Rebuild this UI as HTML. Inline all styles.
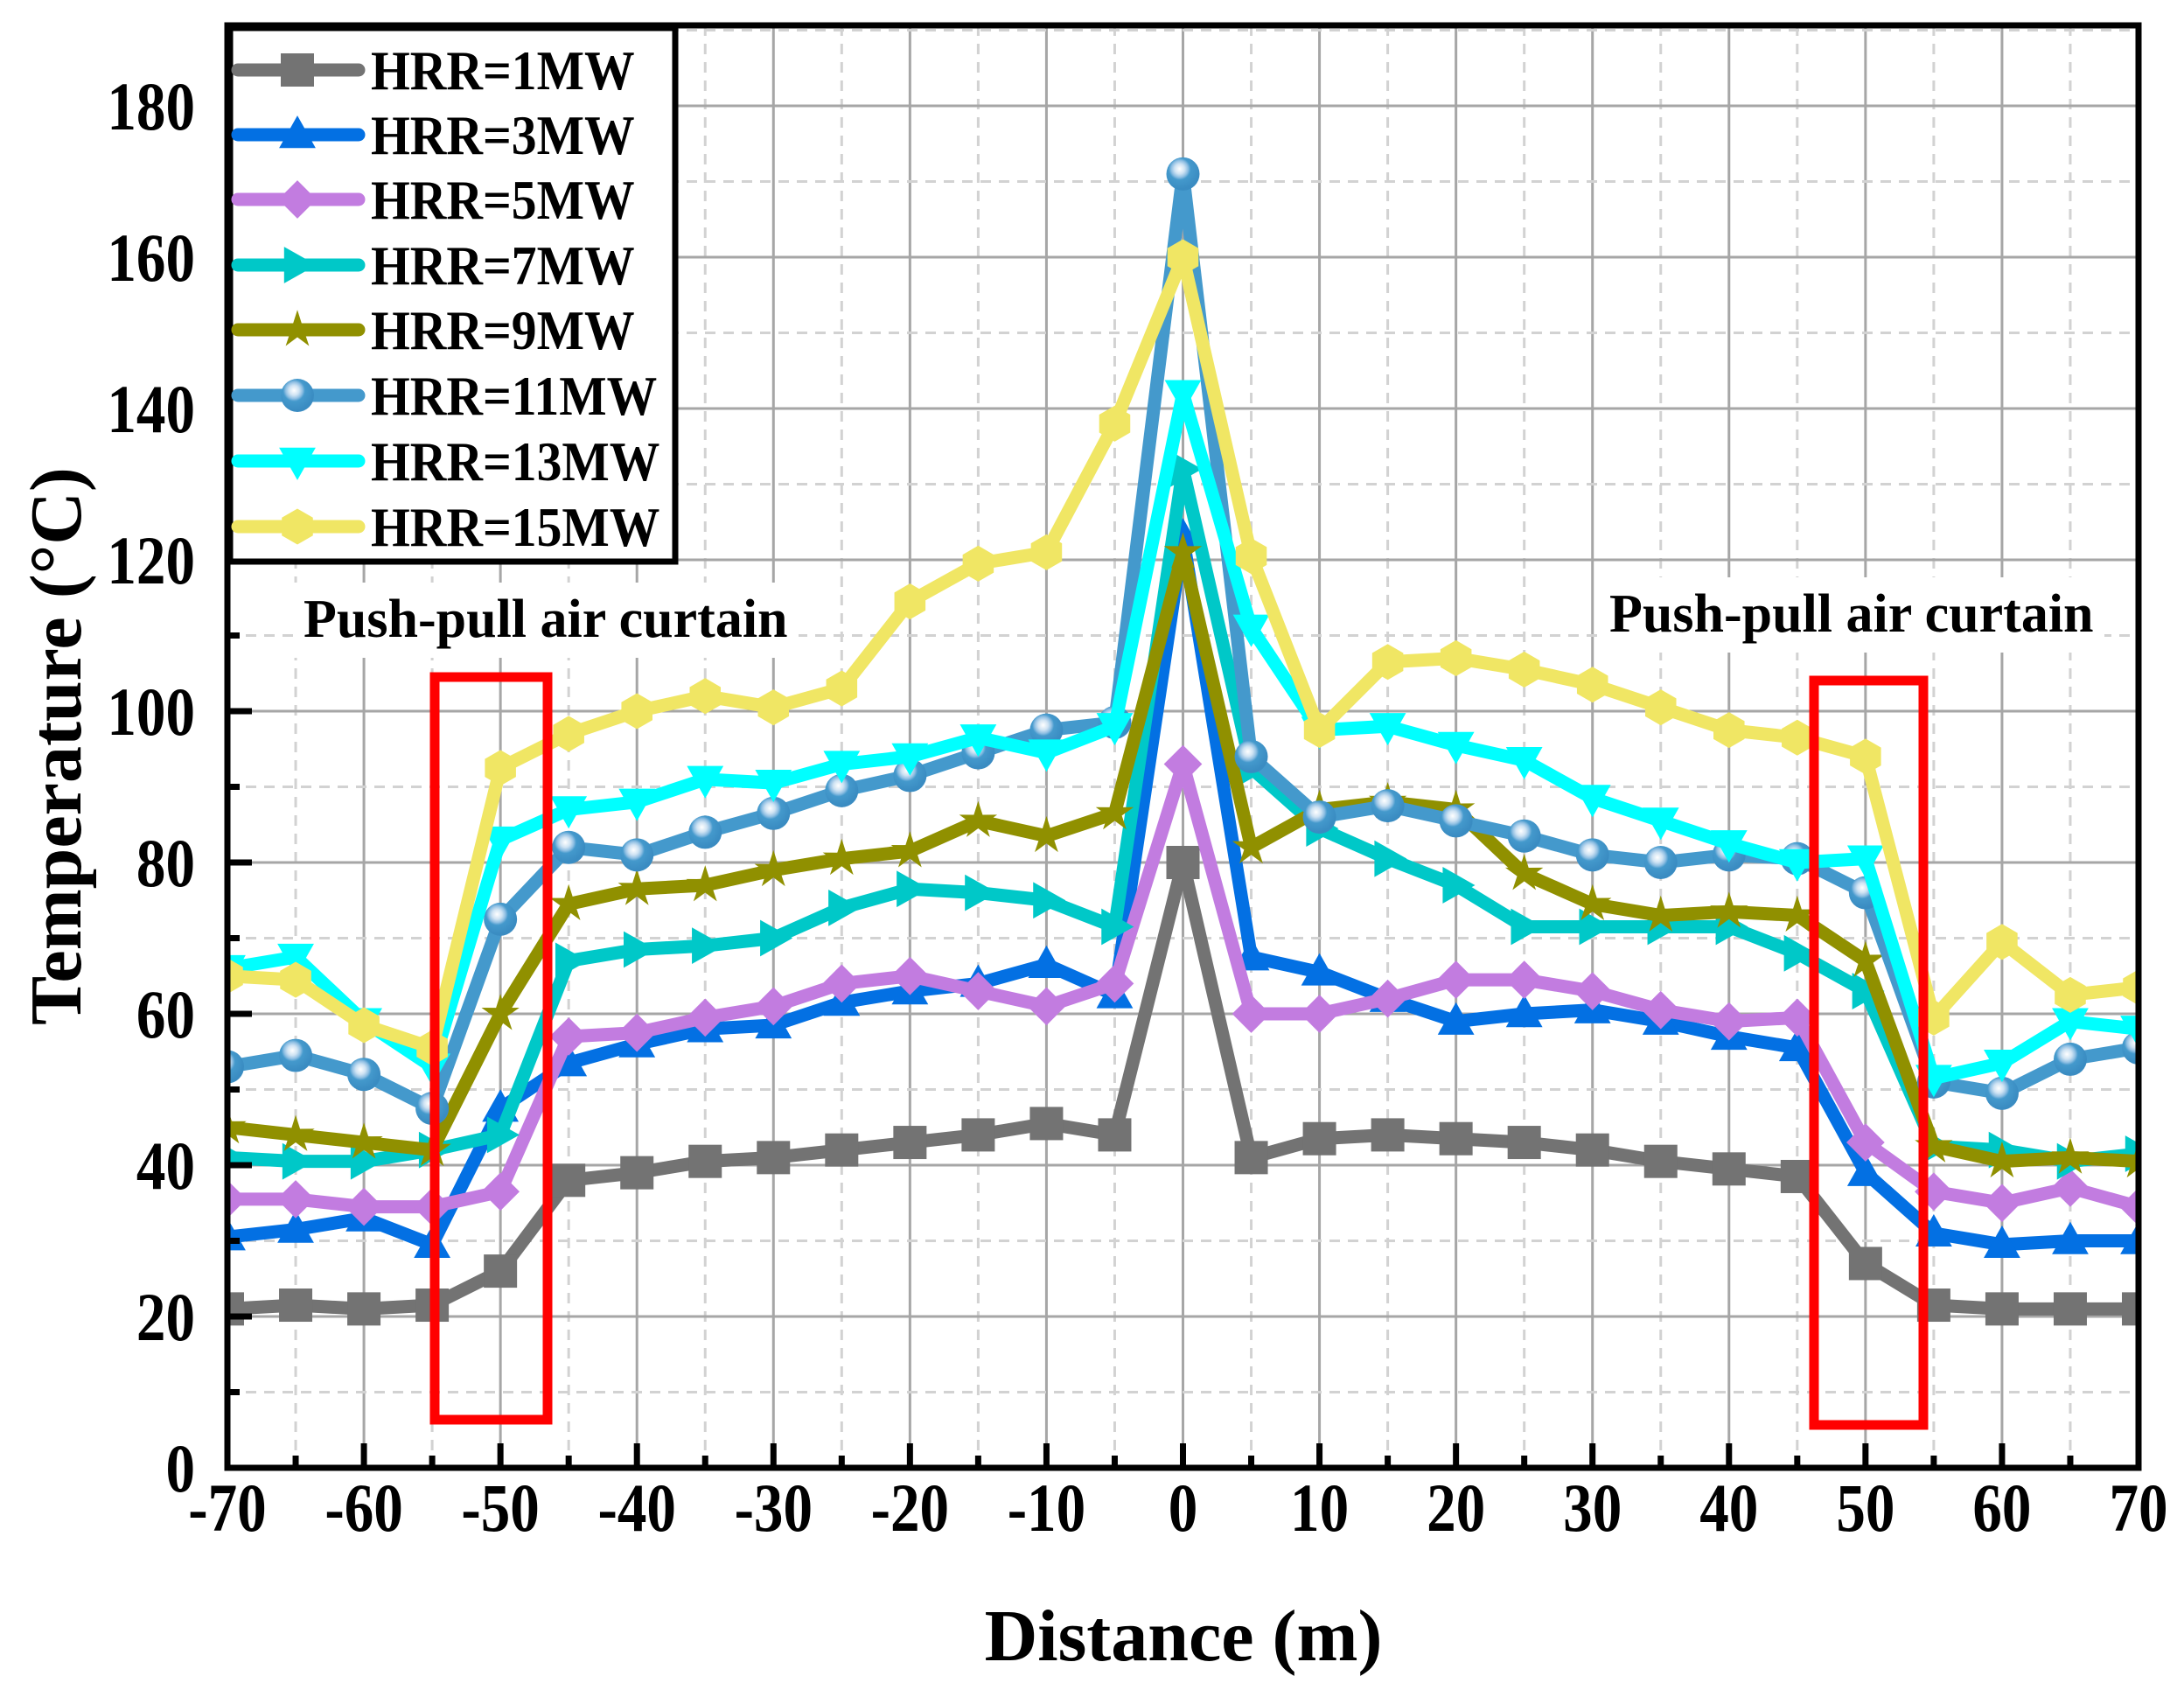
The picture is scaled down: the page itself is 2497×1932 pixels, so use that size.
<!DOCTYPE html>
<html><head><meta charset="utf-8"><style>
html,body{margin:0;padding:0;background:#fff;}
svg{display:block;font-family:"Liberation Serif",serif;font-weight:bold;}
</style></head><body>
<svg id="chart" width="2497" height="1932" viewBox="0 0 2497 1932" xmlns="http://www.w3.org/2000/svg">
<defs>
<clipPath id="plotclip"><rect x="260" y="29" width="2185" height="1649"/></clipPath>
<radialGradient id="ballgrad" cx="0.4" cy="0.35" r="0.6">
<stop offset="0" stop-color="#ffffff"/><stop offset="0.25" stop-color="#cfe3f3"/><stop offset="0.42" stop-color="#8fbfe3"/><stop offset="0.55" stop-color="#4499cc"/><stop offset="1" stop-color="#3a8cc2"/>
</radialGradient>
</defs>
<g id="grid"></g>
<g id="annot"></g>
<g id="series" clip-path="url(#plotclip)"></g>
<g id="axes"></g>
<g id="legend"></g>
</svg>
<script>
const distances = [-70,-65,-60,-55,-50,-45,-40,-35,-30,-25,-20,-15,-10,-5,0,5,10,15,20,25,30,35,40,45,50,55,60,65,70];
const hrr1  = [21,21.5,21,21.5,26,38,39,40.5,41,42,43,44,45.5,44,80,41,43.5,44,43.5,43,42,40.5,39.5,38.5,27,21.5,21,21,21];
const hrr3  = [30.5,31.5,33,29.5,47.5,53.5,56,58,58.5,61.5,63,64,66.5,62.5,123,67.5,65.5,62,59,60,60.5,59,57,55.5,39,31,29.5,30,30];
const hrr5  = [35.5,35.5,34.5,34.5,36.5,57,57.5,59.5,61,64,65,63,61,64,93,60,60,62,64.5,64.5,63,60.5,59,59.5,43,36.5,35,37,34.5];
const hrr7  = [41,40.5,40.5,42,44,67,68.5,69,70,74,76.5,76,75,71.5,132,92.5,84.5,80.5,77,71.5,71.5,71.5,71.5,68,63,42.5,42,40.5,41.5];
const hrr9  = [45,44,43,42,60,74.5,76.5,77,79,80.5,81.5,85.5,83.5,86.5,121,82,87,88,87,78.5,74.5,73,73.5,73,67,42.5,40.5,41,40.5];
const hrr11 = [53,54.5,52,47.5,72.5,82,81,84,86.5,89.5,91.5,94.5,97.5,98.5,171,94,86,87.5,85.5,83.5,81,80,81,80.5,76,51,49.5,54,55.5];
const hrr13 = [66,67.5,59,53,83,87,88,91,90.5,93,94,96.5,94.5,98,142,111,97.5,98,95.5,93.5,88.5,85.5,82.5,80,80.5,51.5,53.5,59,58];
const hrr15 = [65,64.5,58.5,55.5,92.5,97,100,102,100.5,103,114.5,119.5,121,138,160,120.5,97.5,106.5,107,105.5,103.5,100.5,97.5,96.5,94,59.5,69.5,62.5,63.5];
const seriesNames = ["HRR=1MW","HRR=3MW","HRR=5MW","HRR=7MW","HRR=9MW","HRR=11MW","HRR=13MW","HRR=15MW"];
const xTickLabels = ["-70","-60","-50","-40","-30","-20","-10","0","10","20","30","40","50","60","70"];
const yTickLabels = ["0","20","40","60","80","100","120","140","160","180"];

const NS="http://www.w3.org/2000/svg";
const X0=260,X1=2445,Y0=1678,YT=29;
const xMin=-70,xMax=70;
function sx(v){return X0+(v-xMin)*(X1-X0)/(xMax-xMin);}
function sy(v){return Y0-v*8.65;}
function mk(tag,attrs,parent){const e=document.createElementNS(NS,tag);for(const k in attrs)e.setAttribute(k,attrs[k]);parent.appendChild(e);return e;}

const grid=document.getElementById('grid');
for(let v=-65;v<70;v+=5){
  const major=(v%10===0);
  const l=mk('line',{x1:sx(v),x2:sx(v),y1:YT,y2:Y0,stroke:major?'#a6a6a6':'#d2d2d2','stroke-width':3,'stroke-dasharray':major?'none':'12 9'},grid);
  
  
}
for(let v=10;v<=190;v+=10){
  const major=(v%20===0);
  const l=mk('line',{x1:X0,x2:X1,y1:sy(v),y2:sy(v),stroke:major?'#a6a6a6':'#d2d2d2','stroke-width':3,'stroke-dasharray':major?'none':'12 9'},grid);
  
  
}

const annot=document.getElementById('annot');
function label(x,y,txt){
  const r=mk('rect',{x:x-12,y:y-62,width:578,height:86,fill:'#fff'},annot);
  
  
  const t=mk('text',{x:x,y:y,'font-size':62,fill:'#000'},annot);
  t.textContent=txt;
  
  
}
label(347,728,'Push-pull air curtain');
label(1840,722,'Push-pull air curtain');

const ser=document.getElementById('series');
const colors=['#737373','#0370e3','#c27ce0','#00c8c8','#909000','#4499cc','#00ffff','#f0e664'];
const markers=['square','triangle','diamond','right','star','circle','down','hexagon'];
const allData=[hrr1,hrr3,hrr5,hrr7,hrr9,hrr11,hrr13,hrr15];

function drawMarker(type,x,y,color,parent,s){
  let e;
  const h=s/2;
  if(type==='square') e=mk('rect',{x:x-h,y:y-h,width:s,height:s,fill:color},parent);
  else if(type==='triangle') e=mk('polygon',{points:`${x},${y-h*1.15} ${x+h*1.1},${y+h*0.8} ${x-h*1.1},${y+h*0.8}`,fill:color},parent);
  else if(type==='down') e=mk('polygon',{points:`${x},${y+h*1.15} ${x+h*1.1},${y-h*0.8} ${x-h*1.1},${y-h*0.8}`,fill:color},parent);
  else if(type==='right') e=mk('polygon',{points:`${x+h*1.15},${y} ${x-h*0.8},${y-h*1.1} ${x-h*0.8},${y+h*1.1}`,fill:color},parent);
  else if(type==='diamond') e=mk('polygon',{points:`${x},${y-h*1.15} ${x+h*1.15},${y} ${x},${y+h*1.15} ${x-h*1.15},${y}`,fill:color},parent);
  else if(type==='hexagon'){let p=[];for(let i=0;i<6;i++){const a=Math.PI/6+i*Math.PI/3;p.push((x+h*1.08*Math.cos(a))+','+(y+h*1.08*Math.sin(a)));}e=mk('polygon',{points:p.join(' '),fill:color},parent);}
  else if(type==='star'){let p=[];for(let i=0;i<10;i++){const a=-Math.PI/2+i*Math.PI/5;const r=(i%2===0)?h*1.2:h*0.45;p.push((x+r*Math.cos(a))+','+(y+r*Math.sin(a)));}e=mk('polygon',{points:p.join(' '),fill:color},parent);}
  else if(type==='circle') e=mk('circle',{cx:x,cy:y,r:h,fill:'url(#ballgrad)'},parent);
  return e;
}

allData.forEach((data,si)=>{
  const g=mk('g',{},ser);
  
  
  const pts=data.map((v,i)=>sx(distances[i])+','+sy(v)).join(' ');
  const pl=mk('polyline',{points:pts,fill:'none',stroke:colors[si],'stroke-width':15,'stroke-linejoin':'round','stroke-linecap':'round'},g);
  
  
  data.forEach((v,i)=>{
    const m=drawMarker(markers[si],sx(distances[i]),sy(v),colors[si],g,38);
    
    
  });
});

const rb1=mk('rect',{x:497,y:774,width:129,height:849,fill:'none',stroke:'#ff0000','stroke-width':11},annot.parentNode);


const rb2=mk('rect',{x:2074,y:778,width:125,height:851,fill:'none',stroke:'#ff0000','stroke-width':11},annot.parentNode);



const axes=document.getElementById('axes');
const fr=mk('rect',{x:X0,y:YT,width:X1-X0,height:Y0-YT,fill:'none',stroke:'#000','stroke-width':7},axes);


for(let v=-65;v<70;v+=5){
  const major=(v%10===0);
  const t=mk('line',{x1:sx(v),x2:sx(v),y1:Y0,y2:Y0-(major?28:14),stroke:'#000','stroke-width':7},axes);
  
  
}
for(let v=10;v<=180;v+=10){
  const major=(v%20===0);
  const t=mk('line',{x1:X0,x2:X0+(major?28:14),y1:sy(v),y2:sy(v),stroke:'#000','stroke-width':7},axes);
  
  
}
xTickLabels.forEach(s=>{
  const t=mk('text',{x:0,y:0,'font-size':78,'text-anchor':'middle',fill:'#000',transform:`translate(${sx(parseFloat(s))},1750) scale(0.86,1)`},axes);
  t.textContent=s;
  
  
});
yTickLabels.forEach(s=>{
  const t=mk('text',{x:0,y:0,'font-size':78,'text-anchor':'end',fill:'#000',transform:`translate(223,${sy(parseFloat(s))+27}) scale(0.86,1)`},axes);
  t.textContent=s;
  
  
});
const xt=mk('text',{x:1353,y:1898,'font-size':84,'text-anchor':'middle',fill:'#000'},axes);
xt.textContent='Distance (m)';


const yt=mk('text',{x:0,y:0,'font-size':84,'text-anchor':'middle',fill:'#000',transform:'translate(92,853) rotate(-90)'},axes);
yt.textContent='Temperature (°C)';



const leg=document.getElementById('legend');
const lb=mk('rect',{x:263,y:32,width:509,height:610,fill:'#fff',stroke:'#000','stroke-width':7},leg);


const rowY=[80,154,228,303,377,452,527,602];
seriesNames.forEach((n,i)=>{
  const g=mk('g',{},leg);
  
  
  mk('line',{x1:272,x2:410,y1:rowY[i],y2:rowY[i],stroke:colors[i],'stroke-width':15,'stroke-linecap':'round'},g);
  drawMarker(markers[i],340,rowY[i],colors[i],g,38);
  const t=mk('text',{x:0,y:0,'font-size':64,fill:'#000',transform:`translate(424,${rowY[i]+22}) scale(0.9,1)`},g);
  t.textContent=n;
});
</script>
</body></html>
